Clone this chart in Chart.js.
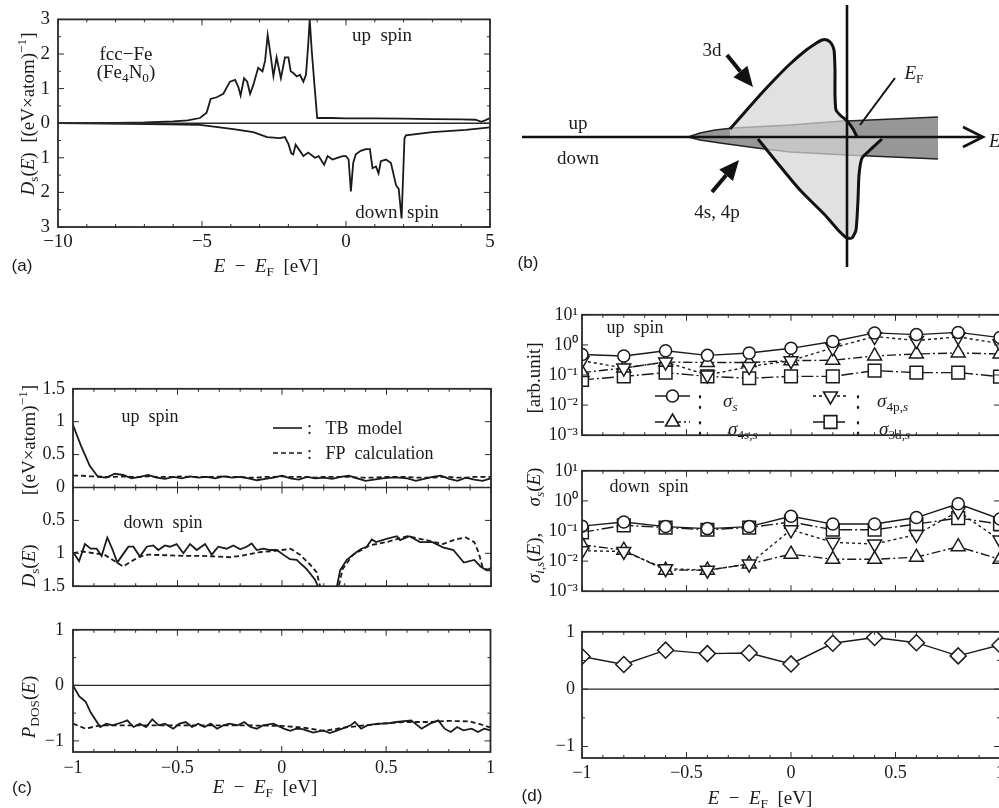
<!DOCTYPE html>
<html lang="en">
<head>
<meta charset="utf-8">
<title>fcc-Fe DOS and spin conductivity</title>
<script src="https://cdn.jsdelivr.net/npm/chart.js"></script>
<style>
html, body { margin: 0; padding: 0; background: #fff; }
body { width: 999px; height: 808px; position: relative; overflow: hidden;
       font-family: 'Liberation Serif', 'Times New Roman', serif; color: #1a1a1a; }
canvas { position: absolute; }
.t { position: absolute; white-space: nowrap; font-size: 18px; line-height: 1; transform: translate(-50%, -50%); }
.l { transform: translate(0, -50%); }
.r { transform: translate(-50%, -50%) rotate(-90deg); }
.p { font-family: 'Liberation Sans', Arial, sans-serif; font-size: 17px; }
.big { font-size: 19px; }
.col { font-size: 20px; transform: translate(-50%, -50%) scaleY(1.45); }
sub, sup { font-size: 70%; line-height: 0; }
</style>
</head>
<body>
<canvas id="ca" width="500" height="260" style="left:0;top:0"></canvas>
<canvas id="cb" width="499" height="290" style="left:500px;top:0"></canvas>
<canvas id="cc1" width="500" height="235" style="left:0;top:370px"></canvas>
<canvas id="cc2" width="500" height="198" style="left:0;top:610px"></canvas>
<canvas id="cd1" width="520" height="150" style="left:500px;top:300px"></canvas>
<canvas id="cd2" width="520" height="150" style="left:500px;top:456px"></canvas>
<canvas id="cd3" width="520" height="194" style="left:500px;top:614px"></canvas>

<!-- (a) -->
<div class="t r big" style="left:27px;top:114px"><i>D</i><sub>s</sub>(<i>E</i>)&nbsp;&nbsp;[(eV×atom)<sup>−1</sup>]</div>
<div class="t big" style="left:266px;top:265px"><i>E</i>&nbsp;&nbsp;−&nbsp;&nbsp;<i>E</i><sub>F</sub>&nbsp;&nbsp;[eV]</div>
<div class="t p" style="left:22px;top:265px">(a)</div>
<div class="t big" style="left:126px;top:53px">fcc−Fe</div>
<div class="t big" style="left:126px;top:71px">(Fe<sub>4</sub>N<sub>0</sub>)</div>
<div class="t big" style="left:382px;top:34px">up&nbsp;&nbsp;spin</div>
<div class="t big" style="left:397px;top:211px">down&nbsp;&nbsp;spin</div>

<!-- (b) -->
<div class="t big" style="left:712px;top:49px">3d</div>
<div class="t big" style="left:914px;top:72px"><i>E</i><sub>F</sub></div>
<div class="t big" style="left:578px;top:122px">up</div>
<div class="t big" style="left:578px;top:157px">down</div>
<div class="t big" style="left:717px;top:211px">4s, 4p</div>
<div class="t p" style="left:528px;top:262px">(b)</div>
<div class="t l big" style="left:989px;top:140px"><i>E</i></div>

<!-- (c) -->
<div class="t r big" style="left:28px;top:440px">[(eV×atom)<sup>−1</sup>]</div>
<div class="t r big" style="left:28px;top:566px"><i>D</i><sub>s</sub>(<i>E</i>)</div>
<div class="t" style="left:150px;top:416px">up&nbsp;&nbsp;spin</div>
<div class="t" style="left:163px;top:522px">down&nbsp;&nbsp;spin</div>
<div class="t l" style="left:307px;top:428px">:&nbsp;&nbsp;&nbsp;TB&nbsp;&nbsp;model</div>
<div class="t l" style="left:307px;top:453px">:&nbsp;&nbsp;&nbsp;FP&nbsp;&nbsp;calculation</div>
<div class="t r big" style="left:28px;top:707px"><i>P</i><sub>DOS</sub>(<i>E</i>)</div>
<div class="t big" style="left:265px;top:786px"><i>E</i>&nbsp;&nbsp;−&nbsp;&nbsp;<i>E</i><sub>F</sub>&nbsp;&nbsp;[eV]</div>
<div class="t p" style="left:22px;top:787px">(c)</div>

<!-- (d) -->
<div class="t r big" style="left:533px;top:378px">[arb.unit]</div>
<div class="t r big" style="left:533px;top:487px"><i>σ</i><sub><i>s</i></sub>(<i>E</i>)</div>
<div class="t r big" style="left:533px;top:558px"><i>σ</i><sub><i>i</i>,<i>s</i></sub>(<i>E</i>),</div>
<div class="t" style="left:635px;top:327px">up&nbsp;&nbsp;spin</div>
<div class="t" style="left:649px;top:486px">down&nbsp;&nbsp;spin</div>
<div class="t col" style="left:700px;top:399px">:</div>
<div class="t col" style="left:700px;top:425px">:</div>
<div class="t col" style="left:858px;top:399px">:</div>
<div class="t col" style="left:858px;top:425px">:</div>
<div class="t l big" style="left:723px;top:400px"><i>σ</i><sub><i>s</i></sub></div>
<div class="t l big" style="left:728px;top:428px"><i>σ</i><sub>4s,<i>s</i></sub></div>
<div class="t l big" style="left:877px;top:400px"><i>σ</i><sub>4p,<i>s</i></sub></div>
<div class="t l big" style="left:879px;top:428px"><i>σ</i><sub>3d,<i>s</i></sub></div>
<div class="t big" style="left:760px;top:797px"><i>E</i>&nbsp;&nbsp;−&nbsp;&nbsp;<i>E</i><sub>F</sub>&nbsp;&nbsp;[eV]</div>
<div class="t p" style="left:532px;top:795px">(d)</div>

<script>
// ---------- (a) DOS of fcc-Fe, energy in eV ----------
const aUpE = [-10, -8, -7, -6, -5.5, -5.07, -4.84, -4.7, -4.49, -4.26, -4.03, -3.85, -3.74, -3.66, -3.54, -3.43, -3.33, -3.22, -3.05, -2.9, -2.81, -2.72, -2.64, -2.52, -2.41, -2.26, -2.12, -2.0, -1.92, -1.83, -1.71, -1.6, -1.48, -1.39, -1.31, -1.26, -1.19, -1.08, -1.0, -0.5, 0, 1, 2, 3, 4, 4.5, 4.7, 4.85, 5]
const aUpD = [0, 0.01, 0.02, 0.05, 0.08, 0.15, 0.3, 0.7, 0.75, 0.85, 1.2, 1.25, 1.05, 0.8, 1.3, 1.2, 0.85, 1.1, 1.6, 1.5, 1.8, 2.55, 2.1, 1.36, 1.9, 1.3, 1.9, 1.9, 1.5, 1.45, 1.35, 1.4, 1.2, 1.4, 2.3, 3.0, 2.1, 0.95, 0.15, 0.15, 0.14, 0.14, 0.13, 0.12, 0.11, 0.1, 0.04, 0.09, 0.15]
const aDnE = [-10, -7.6, -6.23, -5.07, -3.91, -3.22, -2.74, -2.3, -2.12, -2.0, -1.9, -1.83, -1.75, -1.6, -1.48, -1.31, -1.08, -0.95, -0.76, -0.64, -0.47, -0.3, -0.12, 0.0, 0.09, 0.17, 0.25, 0.34, 0.51, 0.69, 0.83, 0.92, 1.04, 1.13, 1.21, 1.39, 1.56, 1.74, 1.83, 1.93, 2.03, 2.08, 3.0, 4.16, 5.0]
const aDnD = [0, 0.02, 0.03, 0.05, 0.17, 0.26, 0.4, 0.43, 0.4, 0.6, 0.87, 0.9, 0.62, 0.8, 0.95, 0.85, 1.0, 0.95, 1.2, 0.95, 1.05, 1.0, 0.95, 0.95, 1.05, 1.97, 1.15, 0.9, 0.8, 0.75, 0.75, 1.3, 1.25, 1.45, 1.1, 1.05, 1.15, 1.8, 1.9, 2.75, 0.45, 0.35, 0.26, 0.19, 0.12]
const aXTicks = [-10, -5, 0, 5]
const aYTicks = [-3, -2, -1, 0, 1, 2, 3]

// ---------- (b) schematic band picture (drawing units) ----------
const bBandTopX = [188, 200, 215, 233, 290, 343, 347, 438]
const bBandTopY = [137, 133, 130, 128, 125, 121, 121, 117]
const bBandBotX = [188, 200, 220, 257, 290, 347, 438]
const bBandBotY = [137, 140, 143, 148, 152, 155, 159]
const bUp3dX = [230, 245, 260, 275, 290, 305, 315, 322, 327, 331, 334, 335, 335, 336, 340, 347, 353, 357]
const bUp3dY = [129, 112, 95, 79, 64, 51, 44, 40, 40, 43, 50, 70, 95, 110, 115, 121, 129, 137]
const bDn3dX = [258, 275, 300, 325, 340, 347, 352, 356, 358, 359, 362, 370, 382]
const bDn3dY = [139, 160, 190, 215, 232, 238, 238, 230, 200, 175, 158, 150, 139]
const bBase = 137

// ---------- (c) TB model vs FP calculation ----------
const cE = [-1, -0.96, -0.92, -0.88, -0.84, -0.8, -0.76, -0.72, -0.68, -0.64, -0.6, -0.56, -0.52, -0.48, -0.44, -0.4, -0.36, -0.32, -0.28, -0.24, -0.2, -0.16, -0.12, -0.08, -0.04, 0, 0.04, 0.08, 0.12, 0.16, 0.2, 0.24, 0.28, 0.32, 0.36, 0.4, 0.44, 0.48, 0.52, 0.56, 0.6, 0.64, 0.68, 0.72, 0.76, 0.8, 0.84, 0.88, 0.92, 0.96, 1]
const cUpTB = [0.95, 0.62, 0.33, 0.16, 0.15, 0.21, 0.19, 0.14, 0.16, 0.19, 0.15, 0.13, 0.16, 0.14, 0.17, 0.15, 0.16, 0.14, 0.17, 0.15, 0.16, 0.14, 0.11, 0.13, 0.15, 0.18, 0.14, 0.12, 0.16, 0.14, 0.15, 0.13, 0.16, 0.18, 0.14, 0.1, 0.12, 0.14, 0.15, 0.15, 0.14, 0.1, 0.13, 0.16, 0.18, 0.13, 0.1, 0.15, 0.12, 0.1, 0.14]
const cUpFP = [0.18, 0.18, 0.17, 0.17, 0.16, 0.16, 0.17, 0.16, 0.16, 0.17, 0.16, 0.16, 0.16, 0.17, 0.16, 0.16, 0.16, 0.16, 0.17, 0.16, 0.16, 0.15, 0.15, 0.16, 0.16, 0.17, 0.16, 0.16, 0.16, 0.15, 0.16, 0.16, 0.16, 0.16, 0.15, 0.15, 0.15, 0.16, 0.16, 0.16, 0.16, 0.15, 0.15, 0.15, 0.16, 0.16, 0.15, 0.15, 0.16, 0.16, 0.16]
const cDnTBE = [-1, -0.971, -0.943, -0.915, -0.887, -0.863, -0.836, -0.81, -0.788, -0.762, -0.735, -0.711, -0.68, -0.647, -0.616, -0.592, -0.56, -0.536, -0.504, -0.472, -0.44, -0.408, -0.368, -0.336, -0.305, -0.265, -0.233, -0.2, -0.169, -0.145, -0.121, -0.089, -0.057, -0.025, 0.006, 0.038, 0.07, 0.118, 0.158, 0.185, 0.255, 0.262, 0.278, 0.31, 0.357, 0.38, 0.405, 0.43, 0.45, 0.5, 0.55, 0.565, 0.61, 0.66, 0.72, 0.77, 0.82, 0.87, 0.92, 0.95, 0.98, 1.0]
const cDnTB = [0.98, 1.12, 0.86, 0.93, 0.93, 1.04, 0.76, 0.95, 1.14, 1.02, 0.9, 0.9, 1.05, 0.9, 0.88, 0.95, 0.88, 0.9, 0.86, 1.0, 0.86, 0.95, 0.86, 1.02, 0.9, 0.93, 0.88, 0.94, 0.9, 0.85, 0.95, 0.93, 0.95, 0.95, 1.02, 1.09, 1.1, 1.24, 1.4, 1.6, 1.6, 1.52, 1.26, 1.1, 0.98, 0.93, 0.9, 0.79, 0.83, 0.78, 0.74, 0.8, 0.74, 0.83, 0.83, 0.91, 0.95, 1.14, 1.1, 1.2, 1.26, 1.22]
const cDnFPE = [-1, -0.96, -0.9, -0.85, -0.8, -0.76, -0.72, -0.68, -0.64, -0.55, -0.45, -0.38, -0.3, -0.25, -0.2, -0.15, -0.1, -0.05, 0.0, 0.04, 0.086, 0.134, 0.166, 0.19, 0.26, 0.27, 0.29, 0.34, 0.42, 0.5, 0.6, 0.69, 0.77, 0.83, 0.88, 0.92, 0.94, 0.96, 0.99, 1.0]
const cDnFP = [1.0, 0.97, 1.0, 1.02, 1.12, 1.2, 1.12, 1.05, 1.02, 1.03, 1.04, 1.04, 1.05, 1.06, 1.04, 1.01, 0.98, 0.97, 0.95, 0.93, 1.02, 1.17, 1.29, 1.6, 1.6, 1.52, 1.24, 1.02, 0.88, 0.83, 0.74, 0.8, 0.86, 0.79, 0.76, 0.83, 0.98, 1.21, 1.26, 1.26]
const cPTBE = [-1, -0.97, -0.94, -0.915, -0.87, -0.84, -0.81, -0.76, -0.74, -0.71, -0.68, -0.65, -0.62, -0.59, -0.56, -0.52, -0.49, -0.46, -0.43, -0.4, -0.37, -0.34, -0.31, -0.28, -0.25, -0.21, -0.18, -0.15, -0.12, -0.09, -0.04, 0.01, 0.04, 0.07, 0.1, 0.15, 0.2, 0.23, 0.26, 0.29, 0.33, 0.35, 0.38, 0.41, 0.46, 0.5, 0.55, 0.62, 0.67, 0.71, 0.75, 0.78, 0.81, 0.84, 0.87, 0.91, 0.94, 0.97, 1.0]
const cPTB = [0, -0.2, -0.29, -0.49, -0.75, -0.69, -0.72, -0.66, -0.63, -0.75, -0.69, -0.75, -0.61, -0.72, -0.69, -0.78, -0.69, -0.66, -0.75, -0.69, -0.75, -0.69, -0.78, -0.72, -0.69, -0.72, -0.66, -0.75, -0.78, -0.72, -0.69, -0.78, -0.82, -0.78, -0.79, -0.85, -0.81, -0.86, -0.82, -0.78, -0.72, -0.66, -0.78, -0.72, -0.69, -0.69, -0.66, -0.63, -0.78, -0.69, -0.63, -0.78, -0.84, -0.75, -0.81, -0.78, -0.84, -0.78, -0.81]
const cPFPE = [-1, -0.94, -0.87, -0.8, -0.6, -0.4, -0.2, 0, 0.1, 0.2, 0.3, 0.4, 0.5, 0.6, 0.7, 0.8, 0.9, 0.95, 1.0]
const cPFP = [-0.69, -0.78, -0.72, -0.72, -0.72, -0.72, -0.72, -0.73, -0.76, -0.82, -0.76, -0.72, -0.68, -0.66, -0.66, -0.64, -0.65, -0.7, -0.76]
const cXTicks = [-1, -0.5, 0, 0.5, 1]
const cYTicks = [-1.5, -1, -0.5, 0, 0.5, 1, 1.5]
const pYTicks = [-1, 0, 1]

// ---------- (d) spin conductivities and polarization ----------
const dE = [-1, -0.8, -0.6, -0.4, -0.2, 0, 0.2, 0.4, 0.6, 0.8, 1]
const upSigS = [0.48, 0.43, 0.64, 0.45, 0.54, 0.77, 1.3, 2.5, 2.2, 2.6, 1.75]
const upSig4p = [0.3, 0.17, 0.27, 0.1, 0.19, 0.3, 0.8, 1.9, 1.4, 1.85, 1.1]
const upSig4s = [0.12, 0.17, 0.27, 0.26, 0.26, 0.3, 0.31, 0.43, 0.5, 0.54, 0.5]
const upSig3d = [0.069, 0.09, 0.12, 0.09, 0.078, 0.09, 0.09, 0.14, 0.12, 0.12, 0.088]
const dnSigS = [0.145, 0.2, 0.14, 0.12, 0.14, 0.31, 0.17, 0.17, 0.28, 0.8, 0.25]
const dnSig4p = [0.022, 0.021, 0.0056, 0.005, 0.008, 0.11, 0.042, 0.037, 0.076, 0.45, 0.05]
const dnSig4s = [0.035, 0.023, 0.005, 0.005, 0.008, 0.017, 0.0115, 0.0115, 0.0135, 0.03, 0.0115]
const dnSig3d = [0.09, 0.155, 0.13, 0.11, 0.13, 0.2, 0.11, 0.11, 0.17, 0.27, 0.17]
const polP = [0.57, 0.43, 0.68, 0.62, 0.63, 0.44, 0.8, 0.9, 0.81, 0.58, 0.77]
const dLogTicks = [0.001, 0.01, 0.1, 1, 10]
const dLogLabels = ['10\u207B\u00B3', '10\u207B\u00B2', '10\u207B\u00B9', '10\u2070', '10\u00B9']

const INK = '#1a1a1a'
Chart.defaults.font.family = "'Liberation Serif', 'Times New Roman', serif"
Chart.defaults.color = INK

const minus = v => (v < 0 ? '\u2212' + Math.abs(v) : String(v))
const pts = (xs, ys, sign = 1) => xs.map((x, i) => ({ x: x, y: sign * ys[i] }))

function steps(min, max, step) {
  const out = []
  if (!step) return out
  const k0 = Math.ceil(min / step - 1e-9), k1 = Math.floor(max / step + 1e-9)
  for (let k = k0; k <= k1; k++) out.push(k * step)
  return out
}

function marker(ctx, style, x, y, r, rot) {
  if (Chart.helpers && Chart.helpers.drawPoint) {
    Chart.helpers.drawPoint(ctx, { pointStyle: style, rotation: rot || 0, radius: r, borderWidth: 1.4 }, x, y)
    return
  }
  ctx.beginPath()
  ctx.arc(x, y, r, 0, Math.PI * 2)
  ctx.fill(); ctx.stroke()
}

// box with inward ticks on all four sides, like the original plots
const framePlugin = {
  id: 'frame',
  afterDatasetsDraw(chart, args, o) {
    if (!o || !o.on) return
    const ctx = chart.ctx, a = chart.chartArea, sx = chart.scales.x, sy = chart.scales.y
    const seg = (x1, y1, x2, y2) => { ctx.beginPath(); ctx.moveTo(x1, y1); ctx.lineTo(x2, y2); ctx.stroke() }
    const z = o.zero ? sy.getPixelForValue(0) : null
    const xMaj = sx.ticks.map(t => t.value), yMaj = sy.ticks.map(t => t.value)
    const xMin = steps(sx.min, sx.max, o.xMinor).filter(v => !xMaj.some(m => Math.abs(m - v) < 1e-6))
    const yMin = o.log ? [] : steps(sy.min, sy.max, o.yMinor).filter(v => !yMaj.some(m => Math.abs(m - v) < 1e-6))
    ctx.save()
    ctx.strokeStyle = '#2a2a2a'
    ctx.lineWidth = 1.4
    if (o.zero) seg(a.left, z, a.right, z)
    ctx.lineWidth = 1
    const drawX = (vals, len) => vals.forEach(v => {
      const p = sx.getPixelForValue(v)
      seg(p, a.bottom, p, a.bottom - len); seg(p, a.top, p, a.top + len)
      if (o.zeroTicks) seg(p, z - len, p, z + len)
    })
    const drawY = (vals, len) => vals.forEach(v => {
      const p = sy.getPixelForValue(v)
      seg(a.left, p, a.left + len, p); seg(a.right, p, a.right - len, p)
    })
    drawX(xMaj, 6); drawX(xMin, 3); drawY(yMaj, 6); drawY(yMin, 3)
    ctx.lineWidth = 1.8
    ctx.strokeRect(a.left, a.top, a.right - a.left, a.bottom - a.top)
    ctx.restore()
  }
}

// little line + symbol samples for the hand-placed legends
const marksPlugin = {
  id: 'marks',
  afterDraw(chart, args, o) {
    if (!o || !o.items) return
    const ctx = chart.ctx
    ctx.save()
    o.items.forEach(it => {
      ctx.strokeStyle = INK; ctx.lineWidth = 1.6
      ctx.setLineDash(it.dash || [])
      ctx.beginPath(); ctx.moveTo(it.x1, it.y); ctx.lineTo(it.x2, it.y); ctx.stroke()
      ctx.setLineDash([])
      if (it.style) { ctx.fillStyle = '#fff'; marker(ctx, it.style, (it.x1 + it.x2) / 2, it.y, it.r, it.rot) }
    })
    ctx.restore()
  }
}

// axis, Fermi line and arrows of the schematic
const bAxis = [[22, 137], [483, 137]]
const bAxisHead = [[463, 127], [483, 137], [463, 147]]
const bFermi = [[347, 5], [347, 267]]
const b3dArrow = [[227, 55], [253, 87]]
const b4sArrow = [[212, 192], [239, 160]]
const bFermiPointer = [[395, 78], [360, 125]]

const schemPlugin = {
  id: 'schem',
  afterDatasetsDraw(chart, args, o) {
    if (!o || !o.on) return
    const ctx = chart.ctx, sx = chart.scales.x, sy = chart.scales.y
    const P = p => [sx.getPixelForValue(p[0]), sy.getPixelForValue(p[1])]
    const poly = list => { ctx.beginPath(); list.map(P).forEach((q, i) => i ? ctx.lineTo(q[0], q[1]) : ctx.moveTo(q[0], q[1])); ctx.stroke() }
    const arrow = (ab) => {
      const [p0, p1] = ab.map(P)
      const dx = p1[0] - p0[0], dy = p1[1] - p0[1], L = Math.hypot(dx, dy)
      const ux = dx / L, uy = dy / L, hl = 20, hw = 9
      const bx = p1[0] - ux * hl, by = p1[1] - uy * hl
      ctx.lineWidth = 4
      ctx.beginPath(); ctx.moveTo(p0[0], p0[1]); ctx.lineTo(bx, by); ctx.stroke()
      ctx.beginPath()
      ctx.moveTo(p1[0], p1[1]); ctx.lineTo(bx - uy * hw, by + ux * hw); ctx.lineTo(bx + uy * hw, by - ux * hw)
      ctx.closePath(); ctx.fill()
    }
    ctx.save()
    ctx.strokeStyle = '#111'; ctx.fillStyle = '#111'
    ctx.lineWidth = 2.6
    poly(bAxis); poly(bAxisHead); poly(bFermi)
    ctx.lineWidth = 2
    poly(bFermiPointer)
    arrow(b3dArrow); arrow(b4sArrow)
    ctx.restore()
  }
}

Chart.register(framePlugin, marksPlugin, schemPlugin)

function axes(o) {
  return {
    x: {
      type: 'linear', min: o.xmin, max: o.xmax,
      afterFit: s => { s.height = o.xh },
      afterBuildTicks: s => { s.ticks = o.xt.map(v => ({ value: v })) },
      grid: { display: false, drawTicks: false }, border: { display: false },
      ticks: { display: o.xlab, padding: o.xpad, autoSkip: false, maxRotation: 0, font: { size: o.fs }, callback: v => minus(v) }
    },
    y: {
      type: o.log ? 'logarithmic' : 'linear', min: o.ymin, max: o.ymax,
      afterFit: s => { s.width = o.yw },
      afterBuildTicks: s => { s.ticks = o.yt.map(v => ({ value: v })) },
      grid: { display: false, drawTicks: false }, border: { display: false },
      ticks: { padding: o.ypad, autoSkip: false, font: { size: o.fs }, callback: o.ylab }
    }
  }
}

function makeChart(id, datasets, o) {
  return new Chart(document.getElementById(id), {
    type: 'line',
    data: { datasets: datasets },
    options: {
      responsive: false, animation: false, devicePixelRatio: 1,
      layout: { padding: o.pad },
      plugins: { legend: { display: false }, tooltip: { enabled: false }, frame: o.frame, marks: o.marks || {} },
      elements: { point: { radius: 0 }, line: { tension: 0, borderColor: INK, borderWidth: 1.8 } },
      scales: axes(o)
    }
  })
}

const curve = (data, dash) => ({ data: data, borderColor: INK, borderWidth: 1.8, borderDash: dash || [], pointRadius: 0, fill: false })
const sig = (vals, style, r, rot, dash) => ({
  data: pts(dE, vals), borderColor: INK, borderWidth: 1.4, borderDash: dash,
  pointStyle: style, pointRadius: r, pointRotation: rot, pointBackgroundColor: '#fff',
  pointBorderColor: INK, pointBorderWidth: 1.5, fill: false
})
const dashFP = [5, 3]
const dash4p = [3, 3], dash4s = [9, 3, 2, 3], dash3d = [12, 3, 2, 3]

// (a)
makeChart('ca', [curve(pts(aUpE, aUpD)), curve(pts(aDnE, aDnD, -1))], {
  xmin: -10, xmax: 5, xt: aXTicks, xlab: true, xh: 33, xpad: 4,
  ymin: -3, ymax: 3, yt: aYTicks, yw: 58, ypad: 8, fs: 19, ylab: v => String(Math.abs(v)),
  pad: { left: 0, right: 10, top: 11, bottom: 0 },
  frame: { on: true, xMinor: 1, yMinor: 0.5, zero: true }
})

// (b)
new Chart(document.getElementById('cb'), {
  type: 'line',
  data: {
    datasets: [
      { data: pts(bBandTopX, bBandTopY), fill: { value: bBase }, backgroundColor: '#979797', borderColor: '#222', borderWidth: 1.4, order: 4 },
      { data: pts(bBandBotX, bBandBotY), fill: { value: bBase }, backgroundColor: '#979797', borderColor: '#222', borderWidth: 1.4, order: 4 },
      { data: pts(bUp3dX, bUp3dY), fill: { value: bBase }, backgroundColor: 'rgba(214,214,214,0.72)', borderColor: '#111', borderWidth: 3, tension: 0.2, order: 2 },
      { data: pts(bDn3dX, bDn3dY), fill: { value: bBase }, backgroundColor: 'rgba(214,214,214,0.72)', borderColor: '#111', borderWidth: 3, tension: 0.2, order: 2 }
    ]
  },
  options: {
    responsive: false, animation: false, devicePixelRatio: 1,
    layout: { padding: 0 },
    plugins: { legend: { display: false }, tooltip: { enabled: false }, filler: { drawTime: 'beforeDatasetDraw' }, schem: { on: true } },
    elements: { point: { radius: 0 } },
    scales: {
      x: { type: 'linear', display: false, min: 0, max: 499 },
      y: { type: 'linear', display: false, min: 0, max: 290, reverse: true }
    }
  }
})

// (c) DOS up / down
makeChart('cc1', [
  curve(pts(cE, cUpTB)), curve(pts(cE, cUpFP), dashFP),
  curve(pts(cDnTBE, cDnTB, -1)), curve(pts(cDnFPE, cDnFP, -1), dashFP)
], {
  xmin: -1, xmax: 1, xt: cXTicks, xlab: false, xh: 0, xpad: 0,
  ymin: -1.5, ymax: 1.5, yt: cYTicks, yw: 73, ypad: 8, fs: 18, ylab: v => String(Math.abs(v)),
  pad: { left: 0, right: 9, top: 17, bottom: 9 },
  frame: { on: true, xMinor: 0.1, zero: true, zeroTicks: true },
  marks: { items: [{ x1: 273, x2: 302, y: 58 }, { x1: 273, x2: 302, y: 83, dash: dashFP }] }
})

// (c) polarization of DOS
makeChart('cc2', [curve(pts(cPTBE, cPTB)), curve(pts(cPFPE, cPFP), dashFP)], {
  xmin: -1, xmax: 1, xt: cXTicks, xlab: true, xh: 56, xpad: 5,
  ymin: -1.2, ymax: 1, yt: pYTicks, yw: 73, ypad: 9, fs: 18, ylab: v => minus(v),
  pad: { left: 0, right: 9, top: 12, bottom: 0 },
  frame: { on: true, xMinor: 0.1, yMinor: 0.5, zero: true }
})

// (d) up spin conductivities
makeChart('cd1', [
  sig(upSigS, 'circle', 6, 0, []), sig(upSig4p, 'triangle', 8, 180, dash4p),
  sig(upSig4s, 'triangle', 8, 0, dash4s), sig(upSig3d, 'rect', 9, 0, dash3d)
], {
  xmin: -1, xmax: 1, xt: cXTicks, xlab: false, xh: 0, xpad: 0,
  ymin: 0.001, ymax: 10, log: true, yt: dLogTicks, yw: 82, ypad: 4, fs: 18, ylab: (v, i) => dLogLabels[i],
  pad: { left: 0, right: 20, top: 14, bottom: 6 },
  frame: { on: true, xMinor: 0.1, log: true },
  marks: { items: [
    { x1: 155, x2: 190, y: 96, style: 'circle', r: 6 },
    { x1: 155, x2: 190, y: 122, style: 'triangle', r: 8, dash: dash4s },
    { x1: 313, x2: 348, y: 96, style: 'triangle', r: 8, rot: 180, dash: dash4p },
    { x1: 313, x2: 348, y: 122, style: 'rect', r: 9, dash: dash3d }
  ] }
})

// (d) down spin conductivities
makeChart('cd2', [
  sig(dnSigS, 'circle', 6, 0, []), sig(dnSig4p, 'triangle', 8, 180, dash4p),
  sig(dnSig4s, 'triangle', 8, 0, dash4s), sig(dnSig3d, 'rect', 9, 0, dash3d)
], {
  xmin: -1, xmax: 1, xt: cXTicks, xlab: false, xh: 0, xpad: 0,
  ymin: 0.001, ymax: 10, log: true, yt: dLogTicks, yw: 82, ypad: 4, fs: 18, ylab: (v, i) => dLogLabels[i],
  pad: { left: 0, right: 20, top: 14, bottom: 6 },
  frame: { on: true, xMinor: 0.1, log: true }
})

// (d) spin polarization of conductivity
makeChart('cd3', [sig(polP, 'rectRot', 8, 0, [])], {
  xmin: -1, xmax: 1, xt: cXTicks, xlab: true, xh: 50, xpad: 4,
  ymin: -1.2, ymax: 1, yt: pYTicks, yw: 82, ypad: 7, fs: 18, ylab: v => minus(v),
  pad: { left: 0, right: 20, top: 14, bottom: 0 },
  frame: { on: true, xMinor: 0.1, yMinor: 0.5, zero: true }
})
</script>
</body>
</html>
